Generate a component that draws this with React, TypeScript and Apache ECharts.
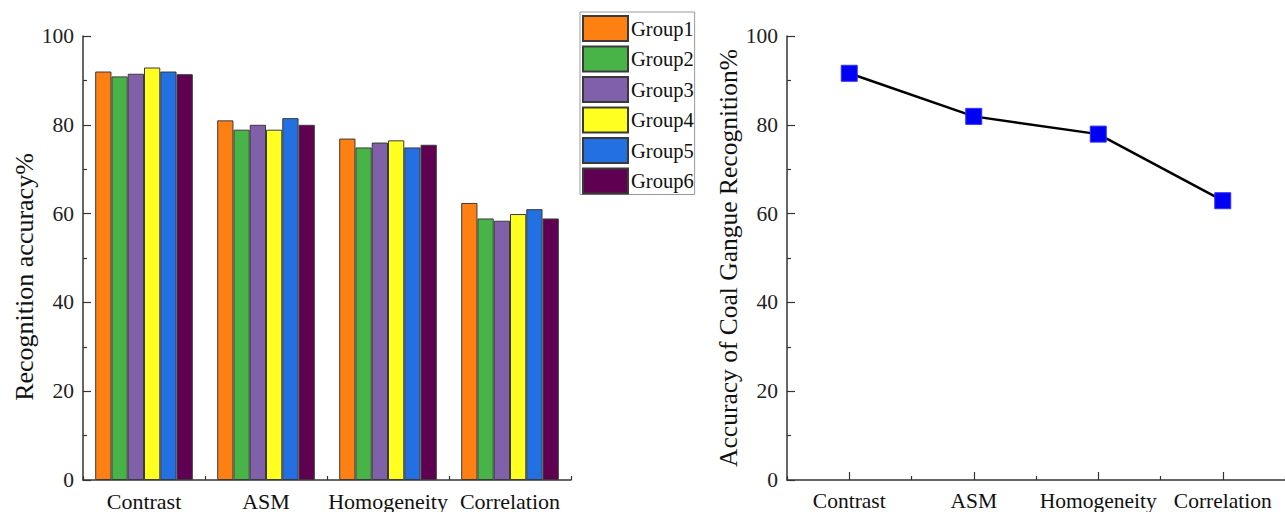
import React, { useEffect, useRef } from "react";
import * as echarts from "echarts";

const categories = ["Contrast", "ASM", "Homogeneity", "Correlation"];
const groupNames = ["Group1", "Group2", "Group3", "Group4", "Group5", "Group6"];
const group1 = [92.0, 81.0, 76.9, 62.4];
const group2 = [90.9, 78.9, 74.9, 58.9];
const group3 = [91.5, 80.0, 76.0, 58.4];
const group4 = [92.9, 78.9, 76.5, 59.9];
const group5 = [92.0, 81.5, 74.9, 61.0];
const group6 = [91.4, 80.0, 75.5, 58.9];
const overallAccuracy = [91.6, 81.9, 77.9, 62.9];
const yTicks = [0, 20, 40, 60, 80, 100];

const groupColors = ["#FF8012", "#48B448", "#8060A8", "#FFFF20", "#2270E2", "#600050"];

const FONT = "Liberation Serif";
const AXIS = "#333333";

export default function App() {
  const ref = useRef<HTMLDivElement>(null);
  useEffect(() => {
    if (!ref.current) return;
    const chart = echarts.init(ref.current, null, { renderer: "svg" });
    const groups = [group1, group2, group3, group4, group5, group6];
    const yMin = yTicks[0];
    const yMax = yTicks[yTicks.length - 1];
    const yInterval = yTicks[1] - yTicks[0];

    const yAxisBase = (gridIndex: number) => ({
      type: "value",
      gridIndex,
      position: "left",
      min: yMin,
      max: yMax,
      interval: yInterval,
      axisLine: { show: true, lineStyle: { color: AXIS, width: 1.5 } },
      axisTick: { show: true, inside: true, length: 8, lineStyle: { color: AXIS, width: 1.2 } },
      minorTick: { show: true, splitNumber: 2, length: 4, lineStyle: { color: AXIS, width: 1.2 } },
      splitLine: { show: false },
      axisLabel: { fontFamily: FONT, fontSize: 21.5, color: "#222", margin: 9 },
      nameLocation: "middle",
      nameRotate: 90,
    });

    const option: any = {
      animation: false,
      backgroundColor: "#ffffff",
      textStyle: { fontFamily: FONT },
      grid: [
        { left: 83, top: 36, width: 488, bottom: 31, containLabel: false },
        { left: 787, top: 36, width: 504, bottom: 31, containLabel: false },
      ],
      legend: {
        orient: "vertical",
        left: 580,
        top: 12,
        data: groupNames,
        itemWidth: 45,
        itemHeight: 25,
        itemGap: 3.5,
        padding: [3, 1, 0, 2],
        borderColor: "#999",
        borderWidth: 1,
        icon: "rect",
        textStyle: { fontFamily: FONT, fontSize: 20.5, color: "#111", padding: [0, 0, 0, -2] },
      },
      xAxis: [
        {
          type: "category",
          gridIndex: 0,
          position: "bottom",
          data: categories,
          boundaryGap: true,
          axisLine: { show: true, lineStyle: { color: AXIS, width: 1.5 } },
          axisTick: { show: true, inside: true, length: 4, lineStyle: { color: AXIS, width: 1.2 } },
          axisLabel: { fontFamily: FONT, fontSize: 22, color: "#111", margin: 10, interval: 0 },
        },
        {
          type: "category",
          gridIndex: 1,
          position: "bottom",
          offset: 0,
          data: categories,
          boundaryGap: true,
          axisLine: { show: true, lineStyle: { color: AXIS, width: 1.5 } },
          axisTick: { show: true, inside: true, alignWithLabel: true, length: 8, lineStyle: { color: AXIS, width: 1.2 } },
          axisLabel: { fontFamily: FONT, fontSize: 21.5, color: "#111", margin: 10, interval: 0 },
        },
        {
          type: "category",
          gridIndex: 1,
          position: "bottom",
          offset: 0,
          data: categories,
          boundaryGap: true,
          axisLine: { show: false },
          axisTick: { show: true, inside: true, length: 4, lineStyle: { color: AXIS, width: 1.2 } },
          axisLabel: { show: false },
        },
      ],
      yAxis: [
        {
          ...yAxisBase(0),
          name: "Recognition accuracy%",
          nameGap: 45,
          nameTextStyle: { fontFamily: FONT, fontSize: 26, color: "#111", padding: [0, 38, 0, 0] },
        },
        {
          ...yAxisBase(1),
          name: "Accuracy of Coal Gangue Recognition%",
          nameGap: 41,
          nameTextStyle: { fontFamily: FONT, fontSize: 25.5, color: "#111" },
        },
      ],
      series: [
        ...groups.map((vals, i) => ({
          name: groupNames[i],
          type: "bar",
          xAxisIndex: 0,
          yAxisIndex: 0,
          data: vals,
          barGap: "0%",
          barCategoryGap: "20%",
          itemStyle: { color: groupColors[i], borderColor: "#3a3a3a", borderWidth: 1 },
        })),
        {
          name: "Accuracy",
          type: "line",
          xAxisIndex: 1,
          yAxisIndex: 1,
          data: overallAccuracy,
          symbol: "rect",
          symbolSize: 16,
          lineStyle: { color: "#000", width: 2.5 },
          itemStyle: { color: "#0000F5", borderColor: "#3030ff", borderWidth: 1 },
          z: 3,
        },
      ],
    };
    chart.setOption(option);
    return () => chart.dispose();
  }, []);
  return (
    <div
      ref={ref}
      style={{ position: "absolute", left: 0, top: 0, width: 1285, height: 512, background: "#fff" }}
    />
  );
}
